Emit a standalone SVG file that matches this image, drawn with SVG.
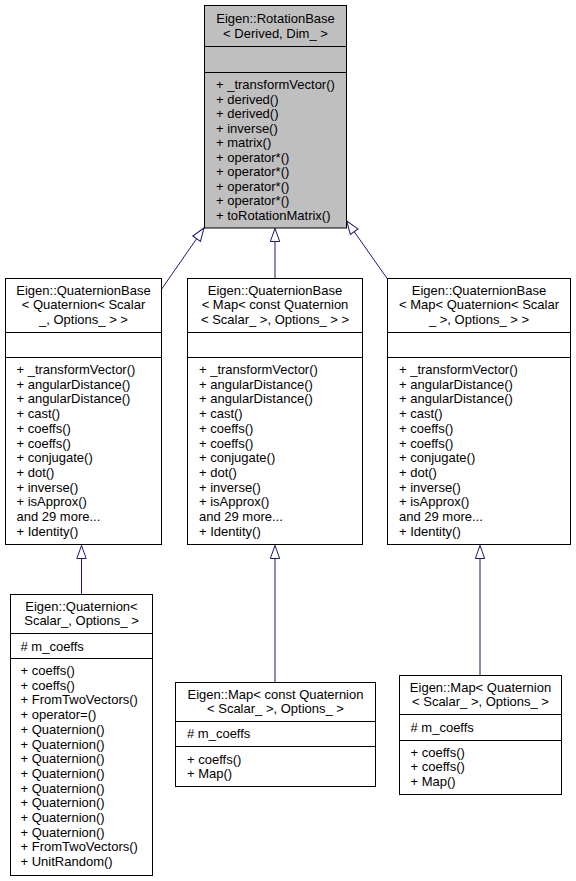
<svg xmlns="http://www.w3.org/2000/svg" width="576" height="881" viewBox="0 0 576 881">
<style>
text{font-family:"Liberation Sans",Arial,sans-serif;font-size:13px;fill:#000}
.t{text-anchor:middle}
.box{fill:#fff;stroke:#000;stroke-width:1}
.gray{fill:#bfbfbf}
.div{stroke:#000;stroke-width:1}
.edge{stroke:#191970;stroke-width:1;fill:none;marker-end:url(#inh)}
</style>
<defs>
<marker id="inh" markerUnits="userSpaceOnUse" viewBox="-15 -7 17 14" markerWidth="17" markerHeight="14" refX="0" refY="0" orient="auto">
<path d="M0,0 L-13,-4.7 L-13,4.7 Z" fill="#fff" stroke="#191970" stroke-width="1"/>
</marker>
</defs>
<rect width="576" height="881" fill="#fff"/>

<g id="edges">
<line class="edge" x1="161" y1="290" x2="204" y2="228"/>
<line class="edge" x1="275" y1="278" x2="275" y2="228.5"/>
<line class="edge" x1="387.5" y1="279" x2="346.7" y2="221"/>
<line class="edge" x1="81.5" y1="594" x2="81.5" y2="545.5"/>
<line class="edge" x1="275" y1="682" x2="275" y2="545.5"/>
<line class="edge" x1="480" y1="675" x2="480" y2="545.5"/>
</g>

<g id="RotationBase">
<rect class="box gray" x="204.5" y="5.5" width="142" height="222.5"/>
<line class="div" x1="204.5" y1="46.5" x2="346.5" y2="46.5"/>
<line class="div" x1="204.5" y1="72.5" x2="346.5" y2="72.5"/>
<text class="t" x="275.5" y="22.5">Eigen::RotationBase</text>
<text class="t" x="275.5" y="37.5">&lt; Derived, Dim_ &gt;</text>
<text x="216" y="89">+ _transformVector()</text>
<text x="216" y="103.5">+ derived()</text>
<text x="216" y="118">+ derived()</text>
<text x="216" y="132.5">+ inverse()</text>
<text x="216" y="147">+ matrix()</text>
<text x="216" y="161.5">+ operator*()</text>
<text x="216" y="176">+ operator*()</text>
<text x="216" y="190.5">+ operator*()</text>
<text x="216" y="205">+ operator*()</text>
<text x="216" y="219.5">+ toRotationMatrix()</text>
</g>

<g id="QBaseQuaternion">
<rect class="box" x="5.5" y="278.5" width="156" height="266"/>
<line class="div" x1="5.5" y1="332.5" x2="161.5" y2="332.5"/>
<line class="div" x1="5.5" y1="357.5" x2="161.5" y2="357.5"/>
<text class="t" x="83.5" y="294.5">Eigen::QuaternionBase</text>
<text class="t" x="83.5" y="309">&lt; Quaternion&lt; Scalar</text>
<text class="t" x="83.5" y="323.5">_, Options_ &gt; &gt;</text>
<text x="16.5" y="374">+ _transformVector()</text>
<text x="16.5" y="388.7">+ angularDistance()</text>
<text x="16.5" y="403.4">+ angularDistance()</text>
<text x="16.5" y="418.1">+ cast()</text>
<text x="16.5" y="432.8">+ coeffs()</text>
<text x="16.5" y="447.5">+ coeffs()</text>
<text x="16.5" y="462.2">+ conjugate()</text>
<text x="16.5" y="476.9">+ dot()</text>
<text x="16.5" y="491.6">+ inverse()</text>
<text x="16.5" y="506.3">+ isApprox()</text>
<text x="16.5" y="521">and 29 more...</text>
<text x="16.5" y="535.7">+ Identity()</text>
</g>

<g id="QBaseMapConst">
<rect class="box" x="187.5" y="278.5" width="175" height="266"/>
<line class="div" x1="187.5" y1="332.5" x2="362.5" y2="332.5"/>
<line class="div" x1="187.5" y1="357.5" x2="362.5" y2="357.5"/>
<text class="t" x="275" y="294.5">Eigen::QuaternionBase</text>
<text class="t" x="275" y="309">&lt; Map&lt; const Quaternion</text>
<text class="t" x="275" y="323.5">&lt; Scalar_ &gt;, Options_ &gt; &gt;</text>
<text x="199" y="374">+ _transformVector()</text>
<text x="199" y="388.7">+ angularDistance()</text>
<text x="199" y="403.4">+ angularDistance()</text>
<text x="199" y="418.1">+ cast()</text>
<text x="199" y="432.8">+ coeffs()</text>
<text x="199" y="447.5">+ coeffs()</text>
<text x="199" y="462.2">+ conjugate()</text>
<text x="199" y="476.9">+ dot()</text>
<text x="199" y="491.6">+ inverse()</text>
<text x="199" y="506.3">+ isApprox()</text>
<text x="199" y="521">and 29 more...</text>
<text x="199" y="535.7">+ Identity()</text>
</g>

<g id="QBaseMap">
<rect class="box" x="387.5" y="278.5" width="183" height="266"/>
<line class="div" x1="387.5" y1="332.5" x2="570.5" y2="332.5"/>
<line class="div" x1="387.5" y1="357.5" x2="570.5" y2="357.5"/>
<text class="t" x="479" y="294.5">Eigen::QuaternionBase</text>
<text class="t" x="479" y="309">&lt; Map&lt; Quaternion&lt; Scalar</text>
<text class="t" x="479" y="323.5">_ &gt;, Options_ &gt; &gt;</text>
<text x="399" y="374">+ _transformVector()</text>
<text x="399" y="388.7">+ angularDistance()</text>
<text x="399" y="403.4">+ angularDistance()</text>
<text x="399" y="418.1">+ cast()</text>
<text x="399" y="432.8">+ coeffs()</text>
<text x="399" y="447.5">+ coeffs()</text>
<text x="399" y="462.2">+ conjugate()</text>
<text x="399" y="476.9">+ dot()</text>
<text x="399" y="491.6">+ inverse()</text>
<text x="399" y="506.3">+ isApprox()</text>
<text x="399" y="521">and 29 more...</text>
<text x="399" y="535.7">+ Identity()</text>
</g>

<g id="Quaternion">
<rect class="box" x="10.5" y="594.5" width="142" height="281"/>
<line class="div" x1="10.5" y1="633.5" x2="152.5" y2="633.5"/>
<line class="div" x1="10.5" y1="658.5" x2="152.5" y2="658.5"/>
<text class="t" x="81.5" y="610.5">Eigen::Quaternion&lt;</text>
<text class="t" x="81.5" y="625">Scalar_, Options_ &gt;</text>
<text x="20.5" y="650.5"># m_coeffs</text>
<text x="20.5" y="675">+ coeffs()</text>
<text x="20.5" y="689.7">+ coeffs()</text>
<text x="20.5" y="704.4">+ FromTwoVectors()</text>
<text x="20.5" y="719.1">+ operator=()</text>
<text x="20.5" y="733.8">+ Quaternion()</text>
<text x="20.5" y="748.5">+ Quaternion()</text>
<text x="20.5" y="763.2">+ Quaternion()</text>
<text x="20.5" y="777.9">+ Quaternion()</text>
<text x="20.5" y="792.6">+ Quaternion()</text>
<text x="20.5" y="807.3">+ Quaternion()</text>
<text x="20.5" y="822">+ Quaternion()</text>
<text x="20.5" y="836.7">+ Quaternion()</text>
<text x="20.5" y="851.4">+ FromTwoVectors()</text>
<text x="20.5" y="866.1">+ UnitRandom()</text>
</g>

<g id="MapConst">
<rect class="box" x="175.5" y="682.5" width="200" height="104"/>
<line class="div" x1="175.5" y1="721.5" x2="375.5" y2="721.5"/>
<line class="div" x1="175.5" y1="746.5" x2="375.5" y2="746.5"/>
<text class="t" x="275.5" y="698.5">Eigen::Map&lt; const Quaternion</text>
<text class="t" x="275.5" y="713">&lt; Scalar_ &gt;, Options_ &gt;</text>
<text x="187" y="737.5"># m_coeffs</text>
<text x="187" y="763.5">+ coeffs()</text>
<text x="187" y="778">+ Map()</text>
</g>

<g id="Map">
<rect class="box" x="399.5" y="675.5" width="162" height="119"/>
<line class="div" x1="399.5" y1="714.5" x2="561.5" y2="714.5"/>
<line class="div" x1="399.5" y1="740.5" x2="561.5" y2="740.5"/>
<text class="t" x="480.5" y="691.5">Eigen::Map&lt; Quaternion</text>
<text class="t" x="480.5" y="706">&lt; Scalar_ &gt;, Options_ &gt;</text>
<text x="410.5" y="731.5"># m_coeffs</text>
<text x="410.5" y="756.5">+ coeffs()</text>
<text x="410.5" y="771">+ coeffs()</text>
<text x="410.5" y="785.5">+ Map()</text>
</g>
</svg>
